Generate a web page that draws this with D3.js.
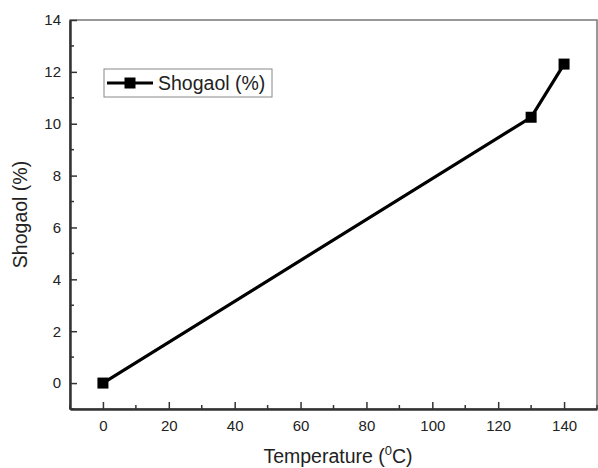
<!DOCTYPE html>
<html>
<head>
<meta charset="utf-8">
<script src="https://cdn.jsdelivr.net/npm/d3@7"></script>
<style>
  body { margin: 0; background: #fff; }
  text { font-family: "Liberation Sans", Arial, sans-serif; fill: #222; }
</style>
</head>
<body>
<div id="chart"></div>
<script>
// data
const temperatures = [0, 130, 140];
const shogaol = [0, 10.25, 12.3];
const xTicks = [0, 20, 40, 60, 80, 100, 120, 140];
const yTicks = [0, 2, 4, 6, 8, 10, 12, 14];
const seriesName = 'Shogaol (%)';

const width = 598, height = 468;
const margin = { top: 20, right: 1, bottom: 59, left: 70 };

const svg = d3.select('#chart').append('svg')
    .attr('width', width)
    .attr('height', height);

const x = d3.scaleLinear().domain([-10, 150]).range([margin.left, width - margin.right]);
const y = d3.scaleLinear().domain([-1, 14]).range([height - margin.bottom, margin.top]);

const points = temperatures.map((t, i) => ({ t: t, v: shogaol[i] }));

// frame (top / right thin)
svg.append('rect')
    .attr('x', margin.left)
    .attr('y', margin.top)
    .attr('width', x.range()[1] - margin.left)
    .attr('height', y.range()[0] - margin.top)
    .attr('fill', 'none')
    .attr('stroke', '#777')
    .attr('stroke-width', 1.5);

// minor ticks
const xMinor = d3.range(-10, 151, 20);
const yMinor = d3.range(-1, 14, 2);

svg.append('g').selectAll('line')
    .data(xMinor)
    .enter().append('line')
        .attr('x1', d => x(d)).attr('x2', d => x(d))
        .attr('y1', y(-1)).attr('y2', y(-1) - 4)
        .attr('stroke', '#333').attr('stroke-width', 1.5);

svg.append('g').selectAll('line')
    .data(yMinor)
    .enter().append('line')
        .attr('x1', x(-10)).attr('x2', x(-10) + 4)
        .attr('y1', d => y(d)).attr('y2', d => y(d))
        .attr('stroke', '#333').attr('stroke-width', 1.5);

// axes
const xAxis = svg.append('g')
    .attr('transform', `translate(0, ${y(-1)})`)
    .call(d3.axisBottom(x).tickValues(xTicks).tickSizeInner(-7).tickSizeOuter(0).tickPadding(11));

const yAxis = svg.append('g')
    .attr('transform', `translate(${x(-10)}, 0)`)
    .call(d3.axisLeft(y).tickValues(yTicks).tickSizeInner(-7).tickSizeOuter(0).tickPadding(9));

[xAxis, yAxis].forEach(ax => {
    ax.select('.domain').attr('stroke', '#333').attr('stroke-width', 2.5);
    ax.selectAll('.tick line').attr('stroke', '#333').attr('stroke-width', 1.5);
    ax.selectAll('.tick text')
        .style('font-family', '"Liberation Sans", Arial, sans-serif')
        .style('font-size', '15px')
        .attr('fill', '#222');
});

// series line
svg.append('path')
    .datum(points)
    .attr('fill', 'none')
    .attr('stroke', '#000')
    .attr('stroke-width', 3.2)
    .attr('d', d3.line().x(d => x(d.t)).y(d => y(d.v)));

svg.append('g').selectAll('rect')
    .data(points)
    .enter().append('rect')
        .attr('x', d => x(d.t) - 5.5)
        .attr('y', d => y(d.v) - 5.5)
        .attr('width', 11)
        .attr('height', 11)
        .attr('fill', '#000');

// axis titles
const xTitle = svg.append('text')
    .attr('x', 338)
    .attr('y', 463)
    .attr('text-anchor', 'middle')
    .style('font-size', '19.5px');
xTitle.append('tspan').text('Temperature (');
xTitle.append('tspan').attr('dy', -8).style('font-size', '13px').text('0');
xTitle.append('tspan').attr('dy', 8).text('C)');

svg.append('text')
    .attr('transform', `translate(27, ${(y.range()[0] + y.range()[1]) / 2}) rotate(-90)`)
    .attr('text-anchor', 'middle')
    .style('font-size', '19.5px')
    .text('Shogaol (%)');

// legend
const legend = svg.append('g').attr('transform', 'translate(104, 69)');
legend.append('rect')
    .attr('width', 168).attr('height', 28)
    .attr('fill', '#fff')
    .attr('stroke', '#888').attr('stroke-width', 1);
legend.append('line')
    .attr('x1', 3).attr('x2', 49).attr('y1', 14).attr('y2', 14)
    .attr('stroke', '#000').attr('stroke-width', 3.2);
legend.append('rect')
    .attr('x', 20.5).attr('y', 8.5).attr('width', 11).attr('height', 11)
    .attr('fill', '#000');
legend.append('text')
    .attr('x', 54).attr('y', 21)
    .style('font-size', '19.5px')
    .text(seriesName);
</script>
</body>
</html>
